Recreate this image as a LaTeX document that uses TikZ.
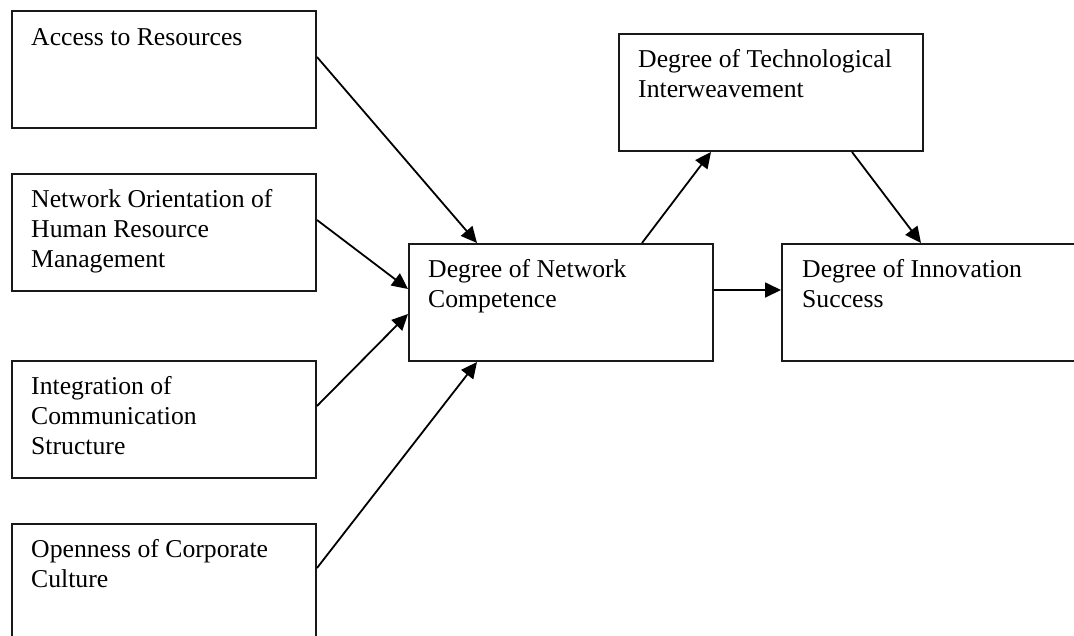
\documentclass[tikz,border=0pt]{standalone}
\usepackage{fontspec}
\setmainfont{Liberation Serif}
\usetikzlibrary{calc,arrows.meta}
\begin{document}
\begin{tikzpicture}[x=1pt,y=-1pt,
  box/.style={draw=black!90,line width=2pt,rectangle,inner sep=0pt,anchor=north west,
    minimum width=304pt,minimum height=117pt},
  lbl/.style={anchor=north west,inner sep=0pt,align=left,
    font=\fontsize{25.7}{30}\selectfont},
  arr/.style={line width=1.8pt,-{Triangle[length=16pt,width=15pt]}}]
\useasboundingbox (0,0) rectangle (1074,635);
\node[box] (A) at (11,10) {};
\node[box] (N) at (11,173) {};
\node[box] (I) at (11,360) {};
\node[box,minimum height=130pt] (O) at (11,523) {};
\node[box] (C) at (408,243) {};
\node[box] (T) at (618,33) {};
\node[box,minimum width=310pt] (S) at (781,243) {};
\node[lbl] (tA) at ($(A.north west)+(20,11)$) {\rule{0pt}{24pt}Access to Resources};
\node[lbl] (tN) at ($(N.north west)+(20,10)$) {\rule{0pt}{24pt}Network Orientation of\\Human Resource\\Management};
\node[lbl] (tI) at ($(I.north west)+(20,10)$) {\rule{0pt}{24pt}Integration of\\Communication\\Structure};
\node[lbl] (tO) at ($(O.north west)+(20,10)$) {\rule{0pt}{24pt}Openness of Corporate\\Culture};
\node[lbl] (tC) at ($(C.north west)+(20,10)$) {\rule{0pt}{24pt}Degree of Network\\Competence};
\node[lbl] (tT) at ($(T.north west)+(20,10)$) {\rule{0pt}{24pt}Degree of Technological\\Interweavement};
\node[lbl] (tS) at ($(S.north west)+(21,10)$) {\rule{0pt}{24pt}Degree of Innovation\\Success};
\draw[arr] ($(A.north east)+(0,47)$) -- ($(C.north west)+(69,0)$);
\draw[arr] ($(N.north east)+(0,47)$) -- ($(C.north west)+(0,46)$);
\draw[arr] ($(I.north east)+(0,46)$) -- ($(C.north west)+(0,71)$);
\draw[arr] ($(O.north east)+(0,45)$) -- ($(C.south west)+(69,0)$);
\draw[arr] ($(C.north west)+(234,0)$) -- ($(T.south west)+(93,0)$);
\draw[arr] ($(T.south west)+(234,0)$) -- ($(S.north west)+(140,0)$);
\draw[arr] ($(C.north east)+(0,47)$) -- ($(S.north west)+(0,47)$);
\end{tikzpicture}
\end{document}
